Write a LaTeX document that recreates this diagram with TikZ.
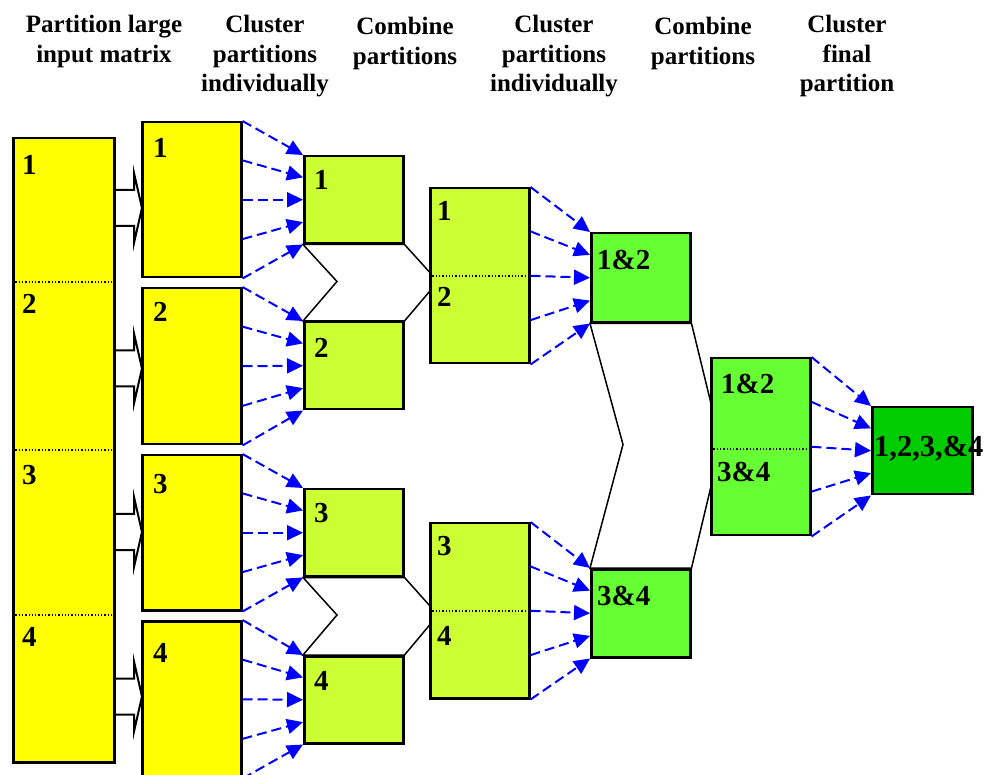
\documentclass[tikz,border=0pt]{standalone}
\usepackage{fontspec}
\setmainfont{Liberation Serif}
\usetikzlibrary{arrows.meta,calc,backgrounds}
\definecolor{cyel}{RGB}{255,255,0}
\definecolor{clg}{RGB}{204,255,51}
\definecolor{cgr}{RGB}{102,255,51}
\definecolor{cdg}{RGB}{0,204,0}
\definecolor{cblue}{RGB}{0,0,255}
\newcommand\fiveflow[2]{%
  \foreach \f in {0,0.25,0.5,0.75,1}
    \draw[flow] ($(#1.north east)!\f!(#1.south east)$) -- ($(#2.north west)!\f!(#2.south west)$);}
\newcommand\blockarrow[1]{%
  \draw[blk] (113,#1-18) -- (134,#1-18) -- (134,#1-35) -- (142,#1) -- (134,#1+35) -- (134,#1+18) -- (113,#1+18);}
\begin{document}
\begin{tikzpicture}[x=1pt,y=-1pt,
  box/.style={draw=black, line width=2.5pt, inner sep=0pt, anchor=north west},
  lab/.style={font=\fontsize{29}{32}\selectfont\bfseries, inner sep=0pt, anchor=base west},
  head/.style={font=\fontsize{25}{29.5}\selectfont\bfseries, align=center, inner sep=0pt, anchor=north},
  flow/.style={draw=cblue, line width=2pt, dash pattern=on 10pt off 5pt, -{Triangle[length=16pt,width=15pt]}},
  chev/.style={draw=black, line width=1.5pt, fill=white, line join=miter},
  blk/.style={draw=black, line width=2pt, fill=white},
  dots/.style={line width=1.3pt, dotted}]
\useasboundingbox (0,0) rectangle (986,775);

% headers
\node[head] (h1) at (104,15) {Partition large\\input matrix};
\node[head] (h2) at (265,15) {Cluster\\partitions\\individually};
\node[head] (h3) at (405,17) {Combine\\partitions};
\node[head] (h4) at (554,15) {Cluster\\partitions\\individually};
\node[head] (h5) at (703,17) {Combine\\partitions};
\node[head] (h6) at (847,15) {Cluster\\final\\partition};

% boxes
\node[box, fill=cyel, minimum width=101pt, minimum height=624pt] (A) at (12,137) {};
\node[box, fill=cyel, minimum width=99pt, minimum height=155pt] (B1) at (141,121) {};
\node[box, fill=cyel, minimum width=99pt, minimum height=156pt] (B2) at (141,287) {};
\node[box, fill=cyel, minimum width=99pt, minimum height=155pt] (B3) at (141,454) {};
\node[box, fill=cyel, minimum width=99pt, minimum height=156pt] (B4) at (141,620) {};
\node[box, fill=clg, minimum width=99pt, minimum height=87pt] (C1) at (303,155) {};
\node[box, fill=clg, minimum width=99pt, minimum height=87pt] (C2) at (303,321) {};
\node[box, fill=clg, minimum width=99pt, minimum height=87pt] (C3) at (303,488) {};
\node[box, fill=clg, minimum width=99pt, minimum height=87pt] (C4) at (303,655) {};
\node[box, fill=clg, minimum width=99pt, minimum height=175pt] (D1) at (429,187) {};
\node[box, fill=clg, minimum width=99pt, minimum height=175pt] (D2) at (429,522) {};
\node[box, fill=cgr, minimum width=99pt, minimum height=89pt] (E1) at (590,232) {};
\node[box, fill=cgr, minimum width=99pt, minimum height=88pt] (E2) at (590,568) {};
\node[box, fill=cgr, minimum width=99pt, minimum height=177pt] (F) at (710,357) {};
\node[box, fill=cdg, minimum width=100pt, minimum height=87pt] (G) at (871,406) {};

% dotted separators
\draw[dots] ($(A.north west)+(0,145)$) -- ($(A.north east)+(0,145)$);
\draw[dots] ($(A.north west)+(0,313)$) -- ($(A.north east)+(0,313)$);
\draw[dots] ($(A.north west)+(0,478)$) -- ($(A.north east)+(0,478)$);
\draw[dots] ($(D1.north west)+(0,89)$) -- ($(D1.north east)+(0,89)$);
\draw[dots] ($(D2.north west)+(0,89)$) -- ($(D2.north east)+(0,89)$);
\draw[dots] ($(F.north west)+(0,92)$) -- ($(F.north east)+(0,92)$);

% chevrons and block arrows behind
\begin{pgfonlayer}{background}
\draw[chev] (C1.south west) -- (C1.south east) -- (438,281.5) -- (C2.north east) -- (C2.north west) -- (337,281.5) -- cycle;
\draw[chev] (C3.south west) -- (C3.south east) -- (438,615) -- (C4.north east) -- (C4.north west) -- (337,615) -- cycle;
\draw[chev] (E1.south west) -- (E1.south east) -- (721,444.5) -- (E2.north east) -- (E2.north west) -- (623,444.5) -- cycle;
\blockarrow{208}
\blockarrow{368.5}
\blockarrow{532}
\blockarrow{696.5}
\end{pgfonlayer}

% dashed flows
\fiveflow{B1}{C1}
\fiveflow{B2}{C2}
\fiveflow{B3}{C3}
\fiveflow{B4}{C4}
\fiveflow{D1}{E1}
\fiveflow{D2}{E2}
\fiveflow{F}{G}

% labels
\node[lab] (a1) at (22,175) {1};
\node[lab] (a2) at (22,314) {2};
\node[lab] (a3) at (22,485) {3};
\node[lab] (a4) at (22,646) {4};
\node[lab] (b1) at (153,158) {1};
\node[lab] (b2) at (153,322) {2};
\node[lab] (b3) at (153,494) {3};
\node[lab] (b4) at (153,662) {4};
\node[lab] (c1) at (314,190) {1};
\node[lab] (c2) at (314,358) {2};
\node[lab] (c3) at (314,523) {3};
\node[lab] (c4) at (314,690) {4};
\node[lab] (d1) at (437,221) {1};
\node[lab] (d2) at (437,307) {2};
\node[lab] (d3) at (437,555) {3};
\node[lab] (d4) at (437,645) {4};
\node[lab] (e1) at (597,270) {1\&2};
\node[lab] (e2) at (597,605) {3\&4};
\node[lab] (f1) at (721,394) {1\&2};
\node[lab] (f2) at (717,482) {3\&4};
\node[lab, font=\fontsize{30.5}{33}\selectfont\bfseries] (g1) at (874,457) {1,2,3,\&4};
\end{tikzpicture}
\end{document}
